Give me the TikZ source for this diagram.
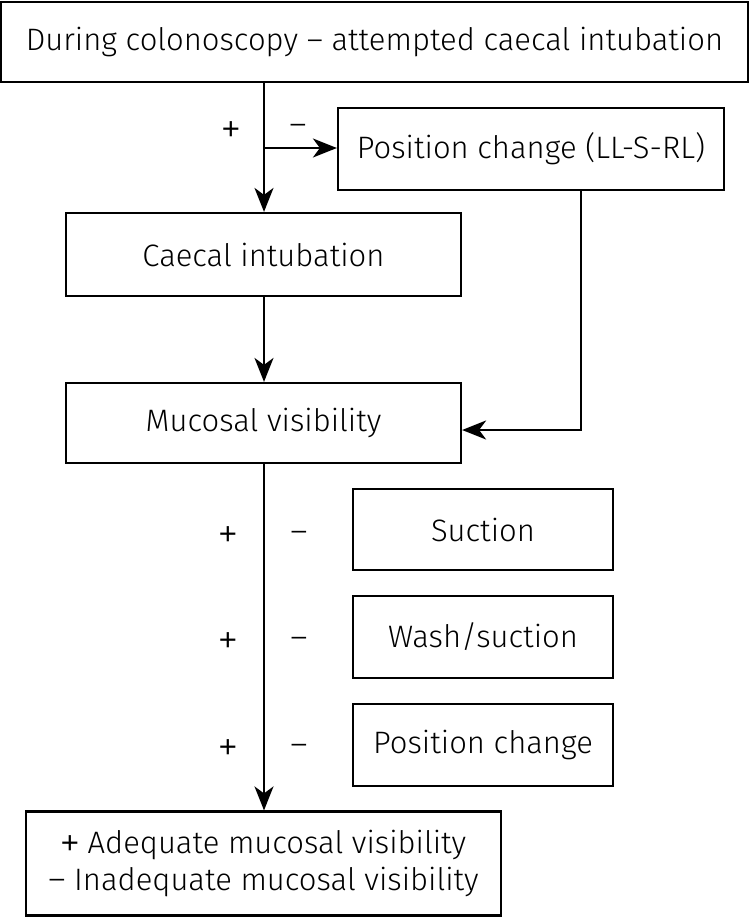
\documentclass[tikz,border=0pt]{standalone}
\usepackage{fontspec}
\setmainfont{Fira Sans Light}
\newfontfamily\plusfont{Liberation Sans}
\usetikzlibrary{arrows.meta}
\newcommand{\bigplus}{{\plusfont\fontsize{31}{37}\selectfont+}}
\newcommand{\bigdash}{{\fontsize{33}{37}\selectfont–}}
\begin{document}
\begin{tikzpicture}[x=1pt,y=-1pt,
  box/.style={draw,line width=2.2pt,inner sep=0pt,font=\fontsize{31}{37}\selectfont},
  sign/.style={inner sep=0pt,font=\fontsize{31}{37}\selectfont},
  conn/.style={line width=2.2pt,-{Stealth[length=24pt,width=19pt,inset=7pt]}}]
\useasboundingbox (0,0) rectangle (750,918);
\node[box,minimum width=747pt,minimum height=80pt] (top) at (374.5,42) {During colonoscopy – attempted caecal intubation};
\node[box,minimum width=386pt,minimum height=82pt] (pc) at (531,149) {Position change (LL-S-RL)};
\node[box,minimum width=395pt,minimum height=83pt] (ci) at (263.5,254.5) {Caecal intubation};
\node[box,minimum width=395pt,minimum height=80pt] (mv) at (263.5,423) {Mucosal visibility};
\node[box,minimum width=260pt,minimum height=81pt] (s1) at (483,529.5) {Suction};
\node[box,minimum width=260pt,minimum height=82pt] (s2) at (483,637) {Wash/suction};
\node[box,minimum width=260pt,minimum height=82pt] (s3) at (483,745) {Position change};
\node[box,minimum width=475pt,minimum height=104pt,align=center] (res) at (263.5,863.5)
  {\bigplus\ Adequate mucosal visibility\\\bigdash\ Inadequate mucosal visibility};
\coordinate (br) at (264,148);
\draw[line width=2.2pt] (top.south -| br) -- (br);
\draw[conn] (br) -- (pc.west |- br);
\draw[conn] (br) -- (ci.north -| br);
\draw[conn] (ci.south -| br) -- (mv.north -| br);
\coordinate (cr) at (581,430);
\draw[conn] (pc.south -| cr) -- (cr) -- (mv.east |- cr);
\draw[conn] (mv.south -| br) -- (res.north -| br);
\node[sign] (p0) at (231,131) {\bigplus};
\node[sign] (m0) at (298,130) {\bigdash};
\node[sign] (p1) at (228,536) {\bigplus};
\node[sign] (m1) at (299,537) {\bigdash};
\node[sign] (p2) at (228,642) {\bigplus};
\node[sign] (m2) at (299,643) {\bigdash};
\node[sign] (p3) at (228,749) {\bigplus};
\node[sign] (m3) at (299,750) {\bigdash};
\end{tikzpicture}
\end{document}
